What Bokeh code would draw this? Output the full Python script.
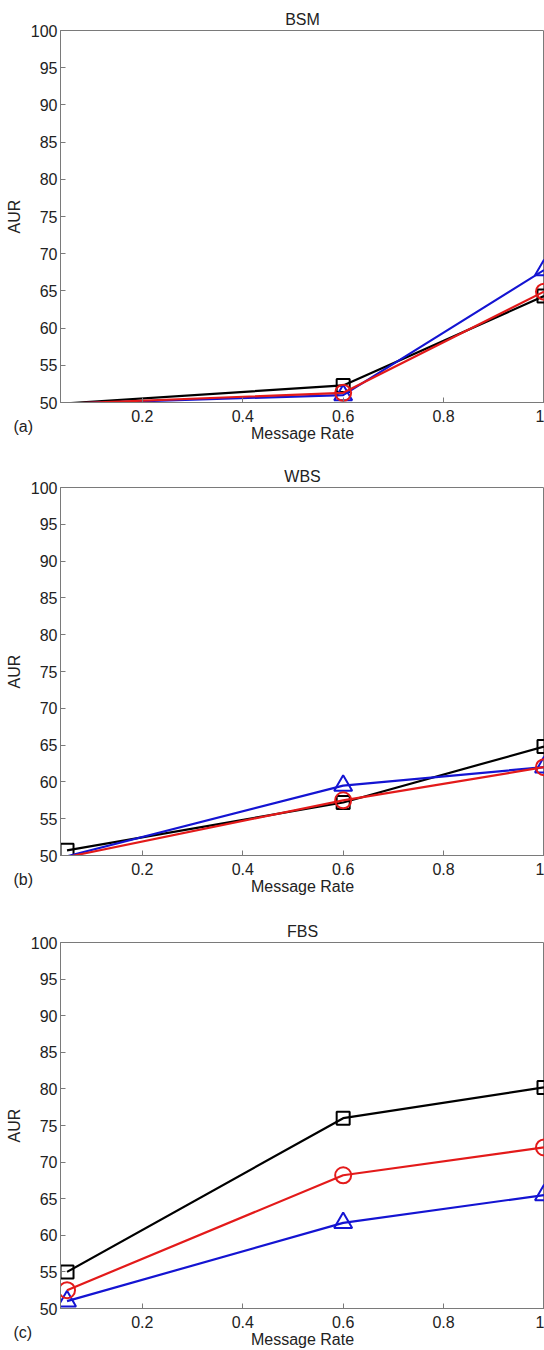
from bokeh.plotting import figure
from bokeh.layouts import column
from bokeh.models import (Range1d, FixedTicker, Title, CustomJSTickFormatter)
from bokeh.embed import file_html
from bokeh.resources import INLINE

# ---- data ----
x_rate = [0.05, 0.6, 1.0]

titles = ["BSM", "WBS", "FBS"]
panel_tags = ["(a)", "(b)", "(c)"]

bsm_square = [49.89, 52.3, 64.3]
bsm_circle = [49.85, 51.3, 64.9]
bsm_triangle = [49.85, 51.0, 67.8]

wbs_square = [50.7, 57.2, 64.8]
wbs_circle = [49.8, 57.5, 62.0]
wbs_triangle = [49.9, 59.5, 62.0]

fbs_square = [55.0, 76.0, 80.2]
fbs_circle = [52.5, 68.2, 72.0]
fbs_triangle = [51.0, 61.7, 65.5]

x_ticks = [0.2, 0.4, 0.6, 0.8, 1]
y_ticks = [50, 55, 60, 65, 70, 75, 80, 85, 90, 95, 100]

panels = [
    (bsm_square, bsm_circle, bsm_triangle),
    (wbs_square, wbs_circle, wbs_triangle),
    (fbs_square, fbs_circle, fbs_triangle),
]

FONT = "Liberation Sans"
FS = "16px"
TXT = "#222222"
AX = "#7a7a7a"
BLACK = "#000000"
RED = "#e31a1a"
BLUE = "#1414d2"

X0, X1 = 0.037, 1.001
Y0, Y1 = 50, 100

heights = [456, 456, 438]
tops = [30, 31, 30]
bottoms = [54, 57, 39]

figs = []
for i, (sq, ci, tr) in enumerate(panels):
    p = figure(width=544, height=heights[i], output_backend="svg",
               toolbar_location=None, x_range=Range1d(X0, X1),
               y_range=Range1d(Y0, Y1), title=titles[i],
               min_border_left=60, min_border_right=0,
               min_border_top=tops[i], min_border_bottom=bottoms[i])
    p.title.align = "center"
    p.title.text_font = FONT
    p.title.text_font_size = FS
    p.title.text_font_style = "normal"
    p.title.text_color = TXT
    p.title.standoff = 5
    p.grid.visible = False
    p.outline_line_color = AX
    p.background_fill_color = "white"
    p.border_fill_color = "white"

    xa = p.xaxis[0]
    xa.ticker = FixedTicker(ticks=x_ticks)
    xa.formatter = CustomJSTickFormatter(code="return tick.toString();")
    xa.axis_label = "Message Rate"
    ya = p.yaxis[0]
    ya.ticker = FixedTicker(ticks=y_ticks)
    ya.axis_label = "AUR"
    for ax in (xa, ya):
        ax.axis_line_color = AX
        ax.major_tick_line_color = AX
        ax.major_tick_in = 5
        ax.major_tick_out = 0
        ax.minor_tick_line_color = None
        ax.major_label_text_font = FONT
        ax.major_label_text_font_size = FS
        ax.major_label_text_color = TXT
        ax.axis_label_text_font = FONT
        ax.axis_label_text_font_size = FS
        ax.axis_label_text_font_style = "normal"
        ax.axis_label_text_color = TXT
    xa.major_label_standoff = 7
    xa.axis_label_standoff = 0
    ya.major_label_standoff = 3
    ya.axis_label_standoff = 5

    series = [(sq, BLACK, "square", 13), (tr, BLUE, "triangle", 18),
              (ci, RED, "circle", 16)]
    for vals, col, mk, sz in series:
        p.line(x_rate, vals, line_color=col, line_width=2.2)
        xs = [x for x, v in zip(x_rate, vals) if v >= Y0]
        vs = [v for v in vals if v >= Y0]
        p.scatter(xs, vs, marker=mk, size=sz, line_color=col,
                  line_width=2, fill_alpha=0)

    tag = Title(text=panel_tags[i], align="left", offset=-47, standoff=-54,
                vertical_align="top",
                text_font=FONT, text_font_size=FS, text_color=TXT,
                text_font_style="normal")
    p.add_layout(tag, "below")
    figs.append(p)

layout = column(*figs, spacing=0)
open("out.html", "w").write(file_html(layout, INLINE))
